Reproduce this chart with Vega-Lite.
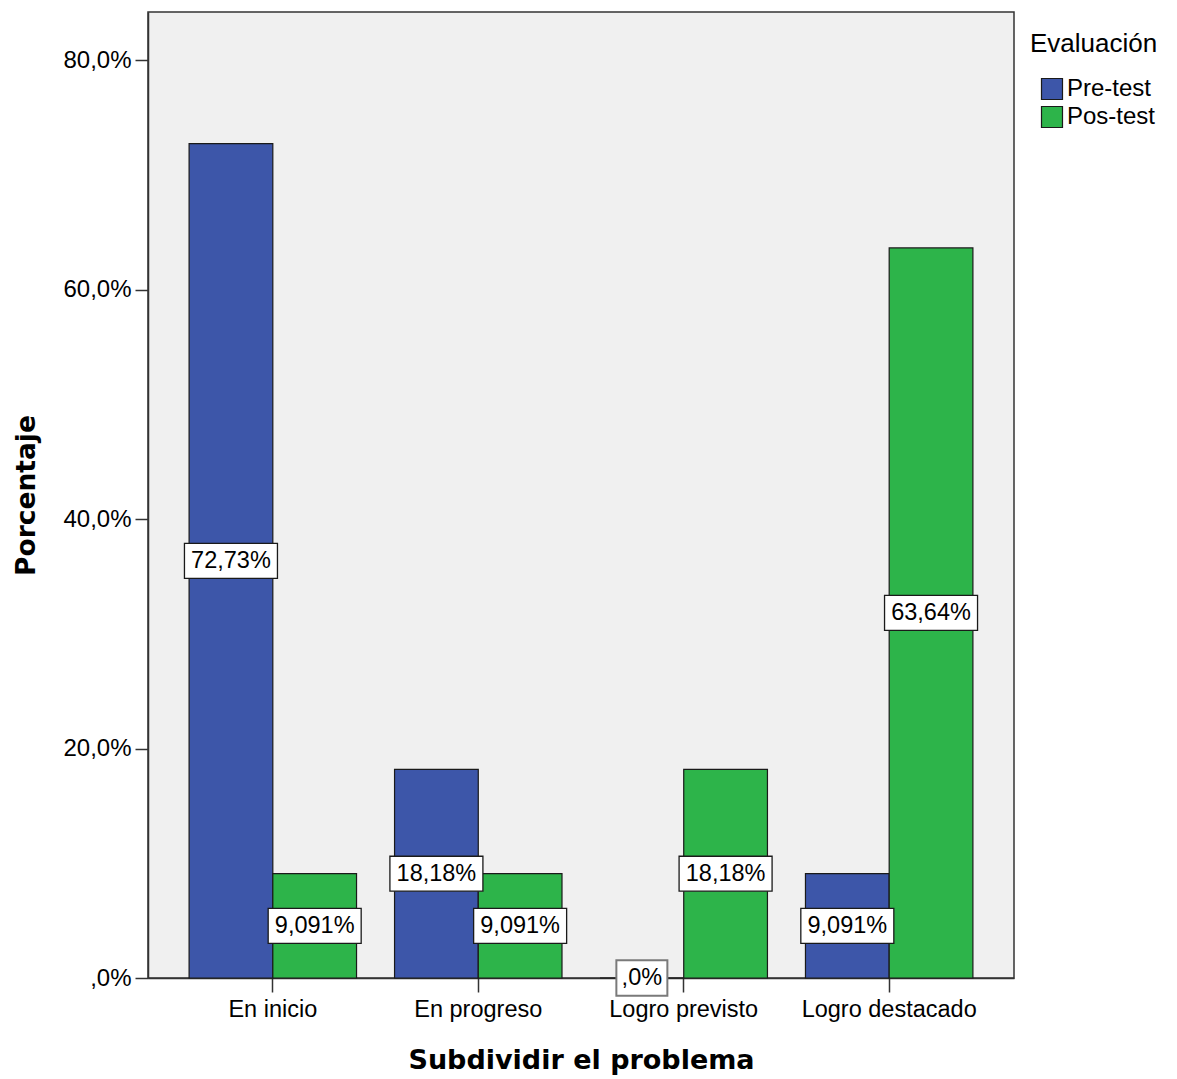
{
  "$schema": "https://vega.github.io/schema/vega-lite/v6.json",
  "width": 866,
  "height": 966,
  "autosize": "none",
  "padding": {"left": 148, "top": 12, "right": 163, "bottom": 101},
  "background": "white",
  "config": {
    "locale": {"number": {"decimal": ",", "thousands": ".", "grouping": [3], "currency": ["", "€"]}},
    "view": {"fill": "#f0f0f0", "stroke": "#333333", "strokeWidth": 1.5},
    "font": "Liberation Sans"
  },
  "data": {
    "values": [
      {"categoria": "En inicio", "evaluacion": "Pre-test", "value": 0.7273},
      {"categoria": "En inicio", "evaluacion": "Pos-test", "value": 0.09091},
      {"categoria": "En progreso", "evaluacion": "Pre-test", "value": 0.1818},
      {"categoria": "En progreso", "evaluacion": "Pos-test", "value": 0.09091},
      {"categoria": "Logro previsto", "evaluacion": "Pre-test", "value": 0},
      {"categoria": "Logro previsto", "evaluacion": "Pos-test", "value": 0.1818},
      {"categoria": "Logro destacado", "evaluacion": "Pre-test", "value": 0.09091},
      {"categoria": "Logro destacado", "evaluacion": "Pos-test", "value": 0.6364}
    ]
  },
  "encoding": {
    "x": {
      "field": "categoria",
      "type": "nominal",
      "sort": ["En inicio", "En progreso", "Logro previsto", "Logro destacado"],
      "scale": {"paddingInner": 0.185, "paddingOuter": 0.2},
      "axis": {
        "title": "Subdividir el problema",
        "titleFont": "DejaVu Sans",
        "titleFontSize": 27,
        "titleFontWeight": "bold",
        "titleColor": "#000000",
        "titlePadding": 27,
        "labelAngle": 0,
        "labelFontSize": 23.5,
        "labelColor": "#000000",
        "labelPadding": 5,
        "tickSize": 14,
        "tickColor": "#333333",
        "tickWidth": 1.5,
        "domainColor": "#333333",
        "domainWidth": 1.5,
        "grid": false
      }
    },
    "xOffset": {
      "field": "evaluacion",
      "type": "nominal",
      "sort": ["Pre-test", "Pos-test"],
      "scale": {"paddingInner": 0, "paddingOuter": 0}
    }
  },
  "layer": [
    {
      "mark": {"type": "bar", "stroke": "#1a1a1a", "strokeWidth": 1.2},
      "encoding": {
        "y": {
          "field": "value",
          "type": "quantitative",
          "scale": {"domain": [0, 0.842], "nice": false, "zero": true},
          "axis": {
            "title": "Porcentaje",
            "titleFont": "DejaVu Sans",
            "titleFontSize": 26.5,
            "titleFontWeight": "bold",
            "titleColor": "#000000",
            "titlePadding": 22,
            "values": [0, 0.2, 0.4, 0.6, 0.8],
            "format": ".1%",
            "labelExpr": "datum.value == 0 ? ',0%' : datum.label",
            "labelFontSize": 24,
            "labelColor": "#000000",
            "labelPadding": 4,
            "tickSize": 13,
            "tickColor": "#333333",
            "tickWidth": 1.5,
            "domainColor": "#333333",
            "domainWidth": 1.5,
            "grid": false
          }
        },
        "color": {
          "field": "evaluacion",
          "type": "nominal",
          "sort": ["Pre-test", "Pos-test"],
          "scale": {"domain": ["Pre-test", "Pos-test"], "range": ["#3d56a9", "#2db44a"]},
          "legend": {
            "title": "Evaluación",
            "orient": "none",
            "legendX": 882,
            "legendY": 19,
            "titleFont": "Liberation Sans",
            "titleFontSize": 26,
            "titleFontWeight": "normal",
            "titleColor": "#000000",
            "titlePadding": 20,
            "labelFont": "Liberation Sans",
            "labelFontSize": 24,
            "labelColor": "#000000",
            "labelOffset": 3,
            "symbolType": "square",
            "symbolSize": 441,
            "symbolStrokeColor": "#1a1a1a",
            "symbolStrokeWidth": 1.2,
            "symbolOffset": 10,
            "rowPadding": 2
          }
        }
      }
    },
    {
      "transform": [{"filter": "datum.value > 0"}],
      "mark": {"type": "point", "shape": "M-1,-0.376H1V0.376H-1Z", "size": 8649, "filled": true, "fill": "white", "stroke": "#1a1a1a", "strokeWidth": 1.3, "opacity": 1},
      "encoding": {
        "y": {"field": "value", "type": "quantitative", "scale": {"domain": [0, 1.684], "nice": false, "zero": true}, "axis": null}
      }
    },
    {
      "transform": [{"filter": "datum.value == 0"}],
      "mark": {"type": "point", "shape": "M-1,-0.7H1V0.7H-1Z", "size": 2601, "filled": true, "fill": "white", "stroke": "#7a7a7a", "strokeWidth": 2, "opacity": 1},
      "encoding": {
        "y": {"field": "value", "type": "quantitative", "scale": {"domain": [0, 1.684], "nice": false, "zero": true}, "axis": null}
      }
    },
    {
      "mark": {"type": "text", "font": "Liberation Sans", "fontSize": 23.5, "color": "#000000", "baseline": "middle", "align": "center"},
      "encoding": {
        "y": {"field": "value", "type": "quantitative", "scale": {"domain": [0, 1.684], "nice": false, "zero": true}, "axis": null},
        "text": {
          "condition": {"test": "datum.value == 0", "value": ",0%"},
          "field": "value",
          "type": "quantitative",
          "format": ".4p"
        }
      }
    }
  ],
  "resolve": {"scale": {"y": "independent"}}
}
